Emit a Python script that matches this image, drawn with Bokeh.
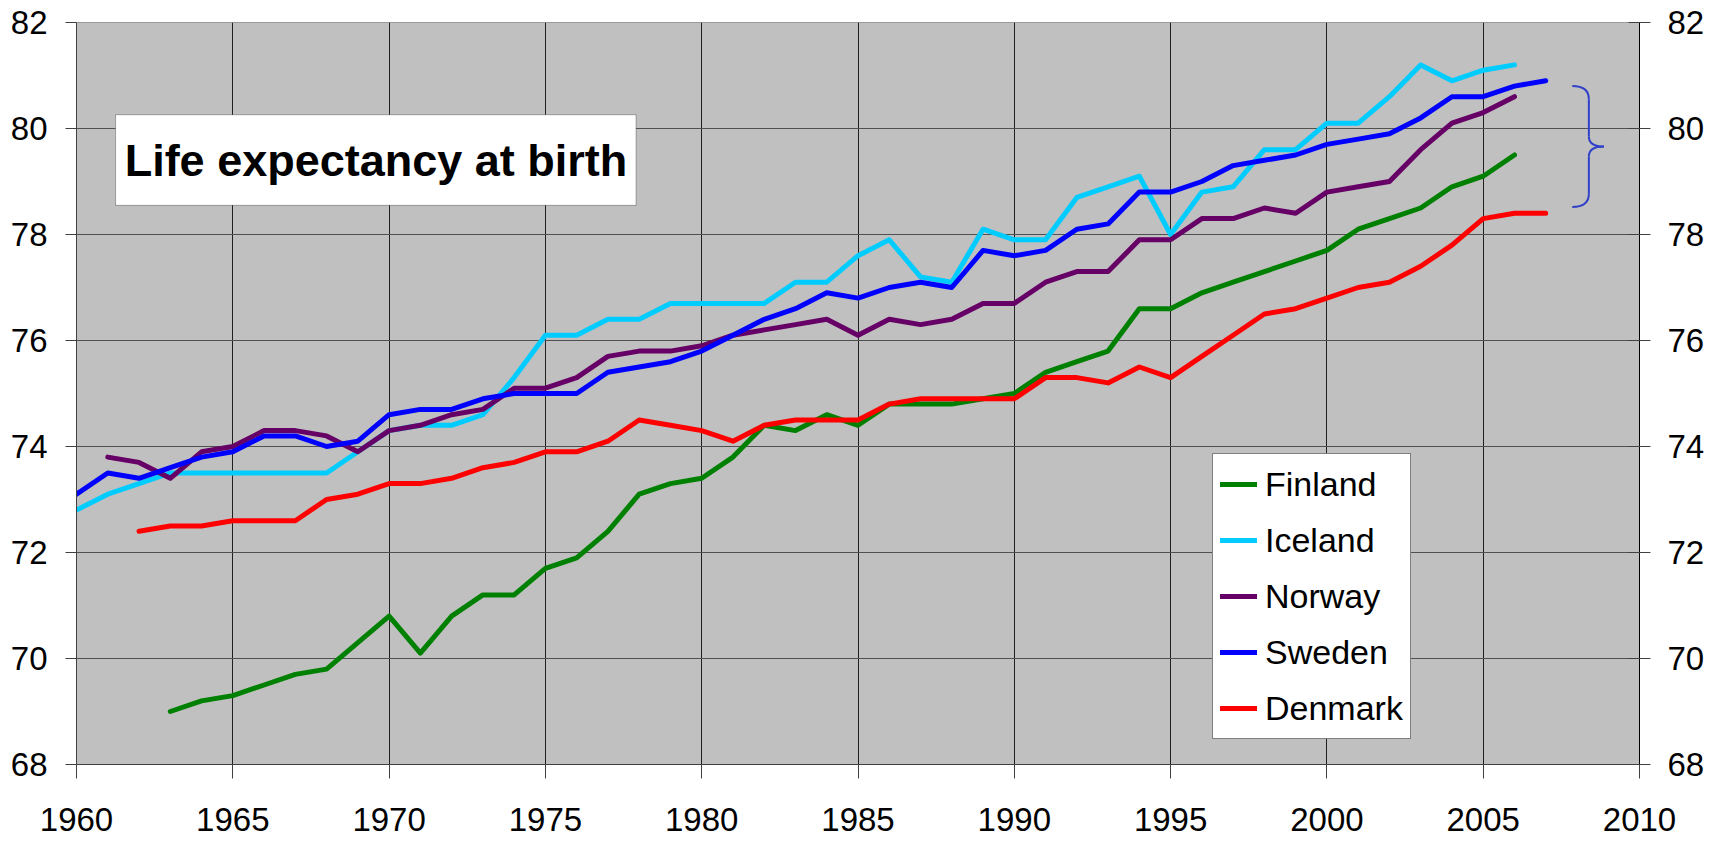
from bokeh.plotting import figure
from bokeh.models import LinearAxis, Range1d, FixedTicker, Legend, LegendItem, Label, BoxAnnotation
from bokeh.embed import file_html
from bokeh.resources import INLINE

# ---------------- data ----------------
X_TICKS = [1960, 1965, 1970, 1975, 1980, 1985, 1990, 1995, 2000, 2005, 2010]
Y_TICKS = [68, 70, 72, 74, 76, 78, 80, 82]

finland_years = list(range(1963, 2007))
finland = [69.0, 69.2, 69.3, 69.5, 69.7, 69.8, 70.3,
           70.8, 70.1, 70.8, 71.2, 71.2, 71.7, 71.9, 72.4, 73.1, 73.3,
           73.4, 73.8, 74.4, 74.3, 74.6, 74.4, 74.8, 74.8, 74.8, 74.9,
           75.0, 75.4, 75.6, 75.8, 76.6, 76.6, 76.9, 77.1, 77.3, 77.5,
           77.7, 78.1, 78.3, 78.5, 78.9, 79.1, 79.5]

iceland_years = list(range(1960, 2007))
iceland = [72.8, 73.1, 73.3, 73.5, 73.5, 73.5, 73.5, 73.5, 73.5, 73.9,
           74.3, 74.4, 74.4, 74.6, 75.3, 76.1, 76.1, 76.4, 76.4, 76.7,
           76.7, 76.7, 76.7, 77.1, 77.1, 77.6, 77.9, 77.2, 77.1, 78.1,
           77.9, 77.9, 78.7, 78.9, 79.1, 78.0, 78.8, 78.9, 79.6, 79.6,
           80.1, 80.1, 80.6, 81.2, 80.9, 81.1, 81.2]

norway_years = list(range(1961, 2007))
norway = [73.8, 73.7, 73.4, 73.9, 74.0, 74.3, 74.3, 74.2, 73.9,
          74.3, 74.4, 74.6, 74.7, 75.1, 75.1, 75.3, 75.7, 75.8, 75.8,
          75.9, 76.1, 76.2, 76.3, 76.4, 76.1, 76.4, 76.3, 76.4, 76.7,
          76.7, 77.1, 77.3, 77.3, 77.9, 77.9, 78.3, 78.3, 78.5, 78.4,
          78.8, 78.9, 79.0, 79.6, 80.1, 80.3, 80.6]

sweden_years = list(range(1960, 2008))
sweden = [73.1, 73.5, 73.4, 73.6, 73.8, 73.9, 74.2, 74.2, 74.0, 74.1,
          74.6, 74.7, 74.7, 74.9, 75.0, 75.0, 75.0, 75.4, 75.5, 75.6,
          75.8, 76.1, 76.4, 76.6, 76.9, 76.8, 77.0, 77.1, 77.0, 77.7,
          77.6, 77.7, 78.1, 78.2, 78.8, 78.8, 79.0, 79.3, 79.4, 79.5,
          79.7, 79.8, 79.9, 80.2, 80.6, 80.6, 80.8, 80.9]

denmark_years = list(range(1962, 2008))
denmark = [72.4, 72.5, 72.5, 72.6, 72.6, 72.6, 73.0, 73.1,
           73.3, 73.3, 73.4, 73.6, 73.7, 73.9, 73.9, 74.1, 74.5, 74.4,
           74.3, 74.1, 74.4, 74.5, 74.5, 74.5, 74.8, 74.9, 74.9, 74.9,
           74.9, 75.3, 75.3, 75.2, 75.5, 75.3, 75.7, 76.1, 76.5, 76.6,
           76.8, 77.0, 77.1, 77.4, 77.8, 78.3, 78.4, 78.4]

countries = ["Finland", "Iceland", "Norway", "Sweden", "Denmark"]
colors = ["#008000", "#00CCFF", "#660066", "#0000FF", "#FF0000"]
series_years = [finland_years, iceland_years, norway_years, sweden_years, denmark_years]
series_vals = [finland, iceland, norway, sweden, denmark]

TITLE = "Life expectancy at birth"

# ---------------- figure ----------------
FONT = "Liberation Sans"
TICK_FS = "33px"

p = figure(width=1715, height=846,
           x_range=Range1d(1960, 2010), y_range=Range1d(68, 82),
           output_backend="svg", toolbar_location=None,
           min_border_left=76, min_border_right=76,
           min_border_top=22, min_border_bottom=82)
p.background_fill_color = "#C0C0C0"
p.border_fill_color = "white"
p.outline_line_color = "#9A9A9A"
p.outline_line_width = 1

for ax in p.xaxis:
    ax.ticker = FixedTicker(ticks=X_TICKS)
    ax.minor_tick_line_color = None
    ax.major_tick_out = 14
    ax.major_tick_in = 0
    ax.major_label_standoff = 29
    ax.axis_line_color = "#404040"
    ax.major_tick_line_color = "#404040"
    ax.major_label_text_font = FONT
    ax.major_label_text_font_size = TICK_FS
    ax.major_label_text_color = "black"

for ax in p.yaxis:
    ax.ticker = FixedTicker(ticks=Y_TICKS)
    ax.minor_tick_line_color = None
    ax.major_tick_out = 11
    ax.major_tick_in = 0
    ax.major_label_standoff = 18
    ax.axis_line_color = "#404040"
    ax.major_tick_line_color = "#404040"
    ax.major_label_text_font = FONT
    ax.major_label_text_font_size = TICK_FS
    ax.major_label_text_color = "black"

yr = LinearAxis(ticker=FixedTicker(ticks=Y_TICKS))
yr.minor_tick_line_color = None
yr.major_tick_out = 11
yr.major_tick_in = 11
yr.major_label_standoff = 17
yr.axis_line_color = "black"
yr.major_tick_line_color = "#404040"
yr.major_label_text_font = FONT
yr.major_label_text_font_size = TICK_FS
yr.major_label_text_color = "black"
p.add_layout(yr, "right")

p.xgrid.ticker = FixedTicker(ticks=X_TICKS)
p.ygrid.ticker = FixedTicker(ticks=Y_TICKS)
p.xgrid.grid_line_color = "#202020"
p.ygrid.grid_line_color = "#505050"
p.xgrid.grid_line_width = 1
p.ygrid.grid_line_width = 1.2

renderers = []
for yrs, vals, col in zip(series_years, series_vals, colors):
    r = p.line(yrs, vals, line_color=col, line_width=5,
               line_join="round", line_cap="round")
    renderers.append(r)

legend = Legend(items=[LegendItem(label=c, renderers=[r]) for c, r in zip(countries, renderers)],
                location=(1136, 25))
legend.margin = 0
legend.padding = 7
legend.spacing = 10
legend.glyph_width = 37
legend.glyph_height = 46
legend.label_height = 46
legend.label_standoff = 8
legend.label_text_font = FONT
legend.label_text_font_size = "34px"
legend.label_text_color = "black"
legend.border_line_color = "black"
legend.border_line_width = 1
legend.background_fill_color = "white"
legend.background_fill_alpha = 1.0
p.add_layout(legend)

# title box (data coordinates)
box = BoxAnnotation(left=1961.25, right=1977.9, top=80.26, bottom=78.55,
                    fill_color="white", fill_alpha=1.0,
                    line_color="black", line_width=1, level="annotation")
p.add_layout(box)
p.add_layout(Label(x=1969.58, y=79.40, text=TITLE, text_align="center",
                   text_baseline="middle", text_font=FONT, text_font_style="bold",
                   text_font_size="45px", text_color="black"))

# curly brace grouping the top of the chart
BR_X0, BR_X1, BR_X2 = 2007.85, 2008.38, 2008.86
BR_TOP, BR_MID, BR_BOT = 80.80, 79.66, 78.52
BR_C = 0.25
bcol = "#3040C8"
p.quadratic(x0=[BR_X0, BR_X1, BR_X2, BR_X1],
            y0=[BR_TOP, BR_MID + 0.19, BR_MID, BR_BOT + BR_C],
            x1=[BR_X1, BR_X2, BR_X1, BR_X0],
            y1=[BR_TOP - BR_C, BR_MID, BR_MID - 0.19, BR_BOT],
            cx=[BR_X1, BR_X1, BR_X1, BR_X1],
            cy=[BR_TOP, BR_MID, BR_MID, BR_BOT],
            line_color=bcol, line_width=2)
p.segment(x0=[BR_X1, BR_X1], y0=[BR_TOP - BR_C, BR_MID - 0.19],
          x1=[BR_X1, BR_X1], y1=[BR_MID + 0.19, BR_BOT + BR_C],
          line_color=bcol, line_width=2)

open("out.html", "w").write(file_html(p, INLINE))
